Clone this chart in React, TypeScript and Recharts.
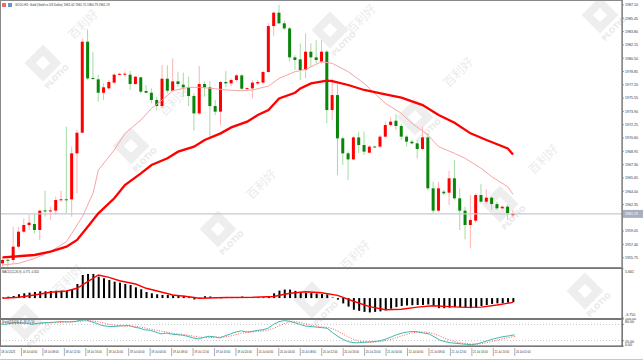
import React from 'react';
import { ComposedChart, Bar, Line, XAxis, YAxis, ReferenceLine } from 'recharts';

// ---------- DATA ----------
const opens = [1955.05,1955.50,1955.47,1957.12,1958.98,1959.81,1959.93,1959.19,1961.62,1961.55,1961.59,1962.95,1963.00,1962.99,1968.70,1971.26,1982.55,1978.05,1977.88,1976.22,1976.76,1977.47,1978.50,1978.52,1978.46,1977.30,1978.13,1976.43,1976.22,1975.32,1974.57,1977.96,1976.47,1977.63,1977.22,1976.89,1975.81,1973.66,1977.30,1976.89,1974.57,1973.87,1977.55,1977.38,1977.80,1978.37,1976.74,1976.76,1977.38,1977.47,1978.79,1984.49,1986.15,1984.83,1984.20,1980.61,1980.36,1979.04,1981.31,1980.61,1980.07,1981.31,1974.07,1975.93,1970.56,1968.70,1967.95,1970.68,1969.73,1968.78,1969.55,1969.53,1970.77,1972.21,1972.75,1972.09,1970.77,1970.15,1969.94,1969.24,1970.68,1964.36,1961.59,1963.94,1963.82,1965.60,1963.12,1961.59,1959.81,1960.35,1963.53,1962.70,1963.20,1962.41,1961.88,1962.08,1961.02];
const highs = [1955.88,1955.67,1959.60,1959.60,1960.64,1961.05,1961.26,1961.67,1964.07,1962.08,1963.32,1964.07,1972.01,1969.53,1971.59,1982.96,1984.08,1981.31,1978.42,1977.38,1977.80,1978.62,1978.71,1978.87,1978.91,1978.29,1978.21,1977.18,1976.76,1975.73,1979.66,1979.62,1980.48,1978.83,1978.71,1978.21,1976.14,1979.53,1977.63,1977.67,1975.32,1977.67,1978.91,1978.00,1978.54,1978.50,1976.89,1977.80,1977.80,1978.95,1984.83,1986.27,1987.10,1985.16,1984.41,1980.90,1982.34,1983.59,1982.34,1982.76,1982.76,1981.52,1978.00,1977.38,1970.77,1968.91,1970.85,1971.39,1971.39,1969.73,1969.60,1970.97,1972.63,1973.16,1973.58,1972.34,1970.97,1970.35,1970.35,1972.01,1971.18,1965.18,1965.18,1964.15,1966.55,1967.87,1964.36,1962.08,1963.53,1963.74,1964.89,1964.23,1963.32,1962.70,1962.20,1962.29,1961.70];
const lows = [1954.64,1954.64,1955.05,1956.91,1958.77,1959.19,1958.77,1957.95,1960.84,1960.43,1961.05,1962.70,1961.26,1960.84,1963.74,1971.18,1977.80,1977.80,1975.11,1975.32,1976.56,1977.38,1978.42,1978.21,1976.56,1977.18,1976.14,1976.14,1974.90,1974.07,1974.28,1976.14,1976.35,1976.97,1975.73,1974.57,1971.51,1973.45,1975.73,1970.68,1973.45,1972.21,1976.89,1977.05,1977.59,1976.56,1976.64,1975.52,1977.18,1977.38,1978.71,1983.25,1984.74,1984.00,1980.07,1979.04,1977.80,1978.00,1979.45,1979.86,1979.86,1972.42,1972.83,1966.01,1967.25,1965.39,1967.87,1968.70,1968.49,1968.70,1969.45,1969.32,1970.68,1972.01,1971.59,1970.35,1969.53,1969.80,1968.08,1969.11,1964.15,1961.26,1961.38,1963.53,1962.29,1962.91,1959.19,1958.03,1956.91,1960.10,1962.50,1962.41,1961.67,1961.67,1961.80,1960.43,1960.79];
const closes = [1955.47,1955.45,1957.12,1958.98,1959.81,1960.10,1959.19,1961.59,1961.55,1961.62,1962.91,1963.00,1962.95,1968.70,1971.26,1982.55,1978.00,1977.96,1976.22,1976.89,1977.55,1978.46,1978.56,1978.58,1977.30,1978.21,1976.35,1976.22,1975.32,1974.57,1977.96,1976.47,1977.63,1977.30,1976.89,1975.81,1973.66,1977.30,1976.89,1974.57,1973.87,1977.55,1977.38,1977.80,1978.37,1976.72,1976.79,1977.47,1977.55,1978.79,1984.49,1986.15,1984.83,1984.20,1980.61,1980.28,1979.04,1981.31,1980.61,1980.28,1981.31,1974.07,1975.93,1970.56,1968.70,1967.95,1970.68,1969.73,1968.91,1969.53,1969.50,1970.77,1972.21,1972.63,1972.09,1970.77,1970.15,1969.94,1969.24,1970.68,1964.36,1961.59,1964.36,1963.74,1965.60,1963.12,1961.59,1959.81,1960.43,1963.53,1962.70,1963.20,1962.41,1961.88,1962.08,1961.26,1961.19];

// moving averages, read at sampled bars
const maSlowIdx = [0,6,9,12,14,16,18,21,23,26,28,31,33,36,38,41,43,46,48,50,52,55,56,58,61,62,65,68,72,75,79,82,85,88,91,95,96];
const maSlowVal = [1955.80,1956.09,1956.50,1957.12,1957.95,1959.60,1961.26,1963.12,1964.77,1966.22,1967.25,1968.08,1968.91,1969.53,1970.35,1971.18,1971.92,1972.63,1973.45,1974.07,1975.52,1976.22,1976.76,1977.38,1977.71,1977.67,1977.18,1976.56,1976.02,1975.60,1974.69,1973.45,1972.50,1971.18,1970.35,1969.32,1968.57];
const maFastIdx = [0,3,6,9,12,13,15,17,18,21,23,26,28,30,32,35,37,40,42,45,47,50,52,55,57,60,62,65,68,70,72,75,77,80,82,85,87,90,92,95,96];
const maFastVal = [1954.85,1955.05,1955.67,1956.50,1957.74,1958.77,1960.84,1963.74,1966.63,1969.11,1971.18,1972.83,1974.28,1975.32,1976.47,1976.89,1976.89,1976.72,1976.56,1976.47,1976.56,1977.05,1978.00,1978.83,1979.12,1980.07,1979.86,1978.83,1977.38,1976.14,1974.90,1973.66,1972.42,1970.97,1969.53,1968.70,1968.08,1966.84,1965.80,1964.56,1963.61];

const macdHist = [0.1,0.26,0.40,0.72,0.90,1.02,1.15,1.28,1.28,1.34,1.39,1.39,1.39,1.66,2.65,4.35,4.54,4.54,4.03,3.73,3.41,3.09,2.90,2.65,2.47,2.03,1.66,1.15,0.90,0.72,0.58,0.58,0.53,0.53,0.45,0.15,-0.26,0.08,0.35,0.30,0.10,-0.05,0.10,0.15,0.20,0.30,0.20,0.15,0.15,0.15,0.30,0.90,1.40,1.60,1.60,1.35,1.15,0.95,0.95,0.85,0.75,0.70,0.10,-0.30,-1.00,-1.60,-2.20,-2.40,-2.60,-2.70,-2.60,-2.50,-2.30,-2.00,-1.70,-1.50,-1.40,-1.35,-1.30,-1.30,-1.20,-1.50,-1.90,-1.90,-1.80,-1.70,-1.70,-1.80,-1.90,-1.80,-1.50,-1.30,-1.10,-1.00,-0.95,-0.85,-0.77];
const signalIdx = [0,3,6,9,12,14,16,18,20,22,25,27,30,32,35,37,42,47,51,54,57,60,63,66,69,72,75,78,81,84,87,90,93,96];
const signalVal = [-0.04,0.15,0.58,1.09,1.33,1.84,3.08,4.34,3.91,3.27,2.65,1.84,1.09,0.58,0.26,-0.04,0.10,0.15,0.30,0.90,1.20,1.00,0.50,-0.60,-1.60,-2.20,-2.10,-1.70,-1.45,-1.60,-1.75,-1.70,-1.30,-0.82];

const stochK = [82,80,84,86,85,84,80,84,86,87,88,90,90,89,91,95,97,90,84,76,73,72,74,75,76,70,66,60,58,52,45,48,44,42,40,36,30,26,32,36,34,30,38,45,52,56,52,54,58,60,66,80,90,94,92,86,80,74,72,70,68,66,50,36,24,16,12,12,14,15,17,20,26,34,42,48,52,54,52,48,45,34,22,16,12,10,8,6,5,8,14,20,26,31,35,38,41.39];
const stochD = [86,85,84,84,84,84,83,83,84,85,86,87,88,89,90,91,93,93,91,87,82,78,75,74,74,73,71,67,63,59,55,52,48,45,43,40,37,33,31,31,32,33,34,37,42,47,50,52,54,56,59,65,74,83,89,90,87,82,77,74,71,69,64,55,44,33,24,18,15,14,15,17,20,25,31,38,44,49,52,52,50,45,37,28,21,15,11,9,7,7,9,13,18,23,28,32,35.5];

const timeLabels = ['18 Jul 2023','18 Jul 04:00','18 Jul 08:00','18 Jul 12:00','18 Jul 16:00','18 Jul 20:00','19 Jul 00:00','19 Jul 04:00','19 Jul 08:00','19 Jul 12:00','19 Jul 16:00','19 Jul 20:00','20 Jul 00:00','20 Jul 04:00','20 Jul 08:00','20 Jul 12:00','20 Jul 16:00','20 Jul 20:00','21 Jul 00:00','21 Jul 04:00','21 Jul 08:00','21 Jul 12:00','21 Jul 16:00','21 Jul 20:00','24 Jul 01:00'];
const LABEL_EVERY = 4;
const priceTicks = [1987.10,1985.45,1983.80,1982.15,1980.50,1978.85,1977.20,1975.55,1973.90,1972.25,1970.60,1968.95,1967.30,1965.65,1964.00,1962.35,1959.05,1957.40,1955.75];
const macdTicks = [5.661, -3.75];
const stochTicks = [100, 80, 20, 0];
const stochLevels = [80, 20];

const titleText = 'GOLD,H1: Gold (Gold vs US Dollar) 1961.02 1961.70 1960.79 1961.19';
const macdText = 'MACD(12,26,9) -0.771 -0.824';
const stochText = 'Stoch(13,3,3) 41.39 35.50';

// ---------- DERIVED ----------
const EMPTY_SLOTS = 20;
const N = opens.length;
const rows: any[] = Array.from({ length: N + EMPTY_SLOTS }, (_, i) =>
  i < N
    ? { i, o: opens[i], h: highs[i], l: lows[i], c: closes[i], hl: [lows[i], highs[i]], macd: macdHist[i], k: stochK[i], d: stochD[i] }
    : { i }
);
maSlowIdx.forEach((ix, k) => { rows[ix].slow = maSlowVal[k]; });
maFastIdx.forEach((ix, k) => { rows[ix].fast = maFastVal[k]; });
signalIdx.forEach((ix, k) => { rows[ix].sig = signalVal[k]; });
const lastClose = closes[N - 1];

const W = 643;
const AXW = 21;
const FS = 3.6;
const TXT = '#333';

const Candle = (props: any) => {
  const { x, y, width, height, payload } = props;
  if (!payload || payload.o == null) return null;
  const top = Math.min(y, y + height);
  const bot = Math.max(y, y + height);
  const span = payload.h - payload.l;
  const py = (v: number) => (span > 0 ? top + ((payload.h - v) / span) * (bot - top) : top);
  const cx = x + width / 2;
  const up = payload.c >= payload.o;
  const yO = py(payload.o);
  const yC = py(payload.c);
  const bt = Math.min(yO, yC);
  const bh = Math.max(1, Math.abs(yO - yC));
  return (
    <g>
      <line x1={cx} x2={cx} y1={top} y2={bot} stroke={up ? '#ffb3b3' : '#a3dca3'} strokeWidth={1} />
      <rect x={cx - 1.5} y={bt} width={3} height={bh} fill={up ? '#ff0000' : '#0a850a'} />
    </g>
  );
};

const PriceTag = (props: any) => {
  const vb = props.viewBox || {};
  const x = (vb.x || 0) + (vb.width || 0);
  const y = vb.y || 0;
  return (
    <g>
      <rect x={x + 1} y={y - 4} width={20} height={8} fill="#a9afbf" />
      <text x={x + 3} y={y} dy="0.35em" fontSize={FS} fill="#fff">{lastClose.toFixed(2)}</text>
    </g>
  );
};

const MacdTick = (props: any) => {
  const { x, y, payload } = props;
  const v = payload.value;
  return (
    <text x={x} y={y + (v > 0 ? 3.5 : -3)} dy="0.35em" fontSize={FS} fill={TXT} textAnchor="start">{v.toFixed(3)}</text>
  );
};

const stochOffset: Record<number, number> = { 100: -0.5, 80: -3, 20: 1.5, 0: -1 };
const StochTick = (props: any) => {
  const { x, y, payload } = props;
  const v = payload.value;
  return (
    <text x={x} y={y + (stochOffset[v] || 0)} dy="0.35em" fontSize={FS} fill={TXT} textAnchor="start">{v.toFixed(2)}</text>
  );
};

const TimeTick = (props: any) => {
  const { x, y, payload } = props;
  const idx = Number(payload.value);
  if (idx % LABEL_EVERY !== 0) return null;
  const label = timeLabels[idx / LABEL_EVERY];
  if (!label) return null;
  return (
    <g>
      <line x1={x} x2={x} y1={y - 2} y2={y + 6} stroke="#777" strokeWidth={0.6} />
      <text x={x + 1.2} y={y + 2.5} dy="0.35em" fontSize={2.7} fill={TXT} textAnchor="start">{label}</text>
    </g>
  );
};

const wmDiamonds = [[43,63],[131,146],[218,229],[312,300],[330,30],[415,117],[500,204],[585,291],[600,15],[25,322]];
const wmTexts = [[84,25],[175,102],[262,185],[356,256],[362,20],[459,73],[544,160],[69,280]];

const Watermark = () => (
  <svg width={W} height={362} style={{ position: 'absolute', left: 0, top: 0 }}>
    {wmDiamonds.map(([x, y], k) => (
      <g key={'d' + k} transform={`translate(${x},${y}) rotate(-45)`}>
        <rect x={-13} y={-13} width={26} height={26} fill="#eeeeee" />
        <rect x={-5} y={-5} width={10} height={10} fill="#ffffff" />
        <text x={0} y={22} fontSize={7.5} fontWeight="bold" fill="#e9e9e9" textAnchor="middle" fontFamily="DejaVu Sans">PLOTIO</text>
      </g>
    ))}
    {wmTexts.map(([x, y], k) => (
      <text key={'t' + k} transform={`translate(${x},${y}) rotate(-45)`} fontSize={12} fill="#ebebeb" textAnchor="middle" dominantBaseline="middle" fontFamily="Noto Sans CJK SC">百利好</text>
    ))}
  </svg>
);

export default function App() {
  return (
    <div style={{ position: 'fixed', left: 0, top: 0, width: W, height: 362, background: '#fff', overflow: 'hidden', fontFamily: 'Liberation Sans, Arial, sans-serif' }}>
      <Watermark />

      <div style={{ position: 'absolute', left: 0, top: 0 }}>
        <ComposedChart width={W} height={268} data={rows} margin={{ top: 1, right: 0, bottom: 1, left: 0 }}>
          <XAxis dataKey="i" type="category" hide />
          <YAxis orientation="right" width={AXW} domain={[1954.6, 1987.6]} ticks={priceTicks} interval={0} allowDataOverflow
            tickSize={2} tickMargin={1} tick={{ fontSize: FS, fill: TXT }} tickFormatter={(v: number) => v.toFixed(2)}
            axisLine={{ stroke: '#555' }} tickLine={{ stroke: '#555', strokeWidth: 0.6 }} />
          <ReferenceLine y={lastClose} stroke="#c6cad6" strokeWidth={1.3} label={<PriceTag />} />
          <Bar dataKey="hl" shape={Candle} isAnimationActive={false} />
          <Line dataKey="fast" stroke="#f6a4a4" strokeWidth={1} dot={false} connectNulls isAnimationActive={false} />
          <Line dataKey="slow" stroke="#ff0000" strokeWidth={2.3} dot={false} connectNulls isAnimationActive={false} />
        </ComposedChart>
      </div>

      <div style={{ position: 'absolute', left: 0, top: 268 }}>
        <ComposedChart width={W} height={51} data={rows} margin={{ top: 0, right: 0, bottom: 1, left: 0 }}>
          <XAxis dataKey="i" type="category" hide />
          <YAxis orientation="right" width={AXW} domain={[-3.75, 5.661]} ticks={macdTicks} interval={0} allowDataOverflow
            tickSize={2} tickMargin={1} tick={<MacdTick />} axisLine={{ stroke: '#555' }} tickLine={{ stroke: '#555', strokeWidth: 0.6 }} />
          <Bar dataKey="macd" fill="#000" barSize={2} isAnimationActive={false} />
          <Line dataKey="sig" stroke="#ff0000" strokeWidth={1.4} dot={false} connectNulls isAnimationActive={false} />
        </ComposedChart>
      </div>

      <div style={{ position: 'absolute', left: 0, top: 318 }}>
        <ComposedChart width={W} height={44} data={rows} margin={{ top: 1, right: 0, bottom: 0, left: 0 }}>
          <XAxis dataKey="i" type="category" interval={0} height={16}
            tick={<TimeTick />} tickLine={false} tickSize={2} tickMargin={2} axisLine={{ stroke: '#555' }} />
          <YAxis orientation="right" width={AXW} domain={[0, 100]} ticks={stochTicks} interval={0} allowDataOverflow
            tickSize={2} tickMargin={1} tick={<StochTick />} axisLine={{ stroke: '#555' }} tickLine={{ stroke: '#555', strokeWidth: 0.6 }} />
          {stochLevels.map((lv) => (
            <ReferenceLine key={lv} y={lv} stroke="#b8b8b8" strokeDasharray="1 2" strokeWidth={0.8} />
          ))}
          <Line dataKey="k" stroke="#3cb9b1" strokeWidth={1} dot={false} isAnimationActive={false} />
          <Line dataKey="d" stroke="#ff5a5a" strokeWidth={1} strokeDasharray="1 1.5" dot={false} isAnimationActive={false} />
        </ComposedChart>
      </div>

      <svg width={W} height={362} style={{ position: 'absolute', left: 0, top: 0, pointerEvents: 'none' }}>
        <rect x={0.5} y={0.5} width={622} height={267} fill="none" stroke="#8a8a8a" strokeWidth={1} />
        <rect x={0.5} y={268.5} width={622} height={50} fill="none" stroke="#777" strokeWidth={1} />
        <rect x={0.5} y={319.5} width={622} height={27} fill="none" stroke="#777" strokeWidth={1} />
        <line x1={0} x2={W} y1={359.5} y2={359.5} stroke="#c8c8c8" strokeWidth={1} />
        <rect x={2} y={3} width={4} height={4} fill="#e07070" />
        <rect x={8} y={3} width={4} height={4} fill="#7090d0" />
        <text x={15} y={5} dy="0.35em" fontSize={3} fill={TXT}>{titleText}</text>
        <text x={2} y={272.5} dy="0.35em" fontSize={2.8} fill={TXT}>{macdText}</text>
        <text x={2} y={322.5} dy="0.35em" fontSize={2.8} fill={TXT}>{stochText}</text>
      </svg>
    </div>
  );
}
